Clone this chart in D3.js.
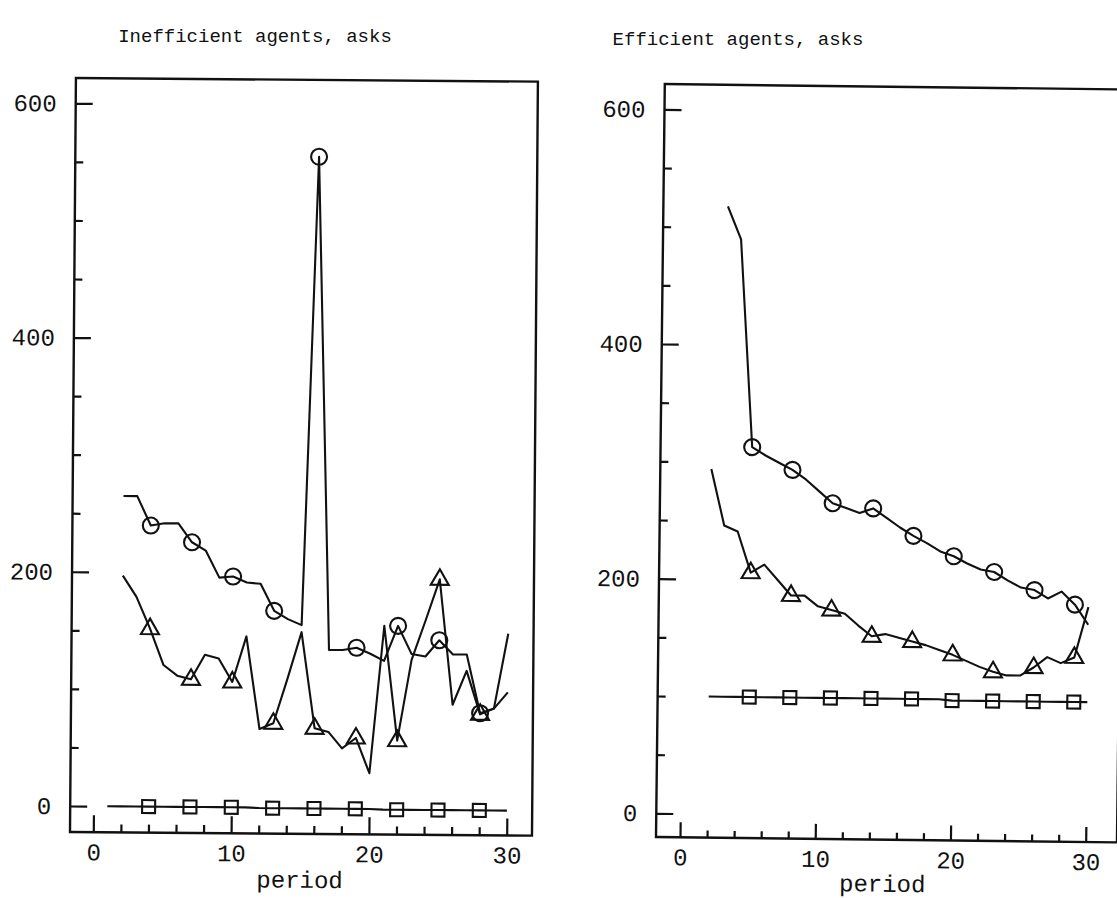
<!DOCTYPE html>
<html>
<head>
<meta charset="utf-8">
<script src="https://cdn.jsdelivr.net/npm/d3@7"></script>
<style>
  body { margin: 0; background: #fff; }
  svg { display: block; }
</style>
</head>
<body>
<svg id="chart" width="1117" height="898"></svg>
<script>
// ---- data ---------------------------------------------------------------
const periods = [1, 2, 3, 4, 5, 6, 7, 8, 9, 10, 11, 12, 13, 14, 15,
                 16, 17, 18, 19, 20, 21, 22, 23, 24, 25, 26, 27, 28, 29, 30];

// marker periods (every third period)
const markersInefficient = [4, 7, 10, 13, 16, 19, 22, 25, 28];
const markersEfficient = [5, 8, 11, 14, 17, 20, 23, 26, 29];

// tick values
const yTicksMajor = [0, 200, 400, 600];
const yTicksMinor = [50, 100, 150, 250, 300, 350, 450, 500, 550];
const xTicksMajor = [0, 10, 20, 30];
const xTicksMinor = [2, 4, 6, 8, 12, 14, 16, 18, 22, 24, 26, 28];

// Inefficient agents, asks (null = no ask recorded)
const ineffCircle = [null, 265, 265, 240, 242, 242, 226, 219, 196, 197,
                     192, 191, 168, 161, 156, 556, 135, 135, 137, 132,
                     126, 156, 132, 130, 144, 132, 132, 82, 86, 100];
const ineffTriangle = [null, 197, 179, 152, 121, 112, 109, 130, 127, 107,
                       146, 67, 72, 110, 150, 68, 65, 51, 60, 30,
                       156, 58, 127, 161, 196, 89, 118, 81, 86, 150];
const ineffSquare = [0, 0, 0, 0, 0, 0, 0, 0, 0, 0,
                     0, -0.5, -0.5, -0.5, -0.5, -0.5, -0.5, -0.5, -0.5, -0.5,
                     -1, -1, -1, -1, -1, -1, -1, -1, -1, -1];

// Efficient agents, asks
const effCircle = [null, null, 518, 490, 313, 306, 300, 294, 286, 276,
                   266, 262, 258, 262, 254, 246, 239, 233, 226, 222,
                   216, 211, 209, 202, 196, 194, 187, 193, 182, 165];
const effTriangle = [null, 294, 246, 241, 206, 213, 200, 187, 187, 178,
                     175, 172, 162, 153, 155, 152, 149, 146, 142, 138,
                     133, 128, 124, 121, 121, 128, 137, 132, 137, 180];
const effSquare = [null, 100, 100, 100, 100, 100, 100, 100, 100, 100,
                   100, 100, 100, 100, 100, 100, 100, 100, 100, 99,
                   99, 99, 99, 99, 99, 99, 99, 99, 99, 99];

const titles = ["Inefficient agents, asks", "Efficient agents, asks"];
const xLabel = "period";

// ---- layout -------------------------------------------------------------
const FONT = "'Liberation Mono', 'Courier New', monospace";
const INK = "#111";
const svg = d3.select("#chart");

const panels = [
  {
    title: titles[0], titleX: 255, titleY: 42,
    frame: { left: 70, right: 532, top: 78, bottom: 832 },
    xRange: [93.3, 506.7], yRange: [806, 103.3],
    angle: 0.45, xMajor: 17, xMinor: 8, yMajor: 17, yMinor: 8,
    labelY: 886,
    series: [ineffCircle, ineffTriangle, ineffSquare],
    markers: markersInefficient
  },
  {
    title: titles[1], titleX: 738, titleY: 45,
    frame: { left: 656, right: 1117, top: 84, bottom: 837 },
    xRange: [680, 1085.7], yRange: [813.3, 109.3],
    angle: 0.67, xMajor: 15, xMinor: 7, yMajor: 17, yMinor: 8,
    labelY: 889,
    series: [effCircle, effTriangle, effSquare],
    markers: markersEfficient
  }
];

const shapes = ["circle", "triangle", "square"];

function drawMarker(g, shape, cx, cy) {
  if (shape === "circle") {
    g.append("circle").attr("cx", cx).attr("cy", cy).attr("r", 8);
  } else if (shape === "square") {
    g.append("rect").attr("x", cx - 6.5).attr("y", cy - 6.5)
      .attr("width", 13).attr("height", 13);
  } else {
    const p = d3.path();
    p.moveTo(cx, cy - 10);
    p.lineTo(cx + 9, cy + 5.5);
    p.lineTo(cx - 9, cy + 5.5);
    p.closePath();
    g.append("path").attr("d", p.toString());
  }
}

panels.forEach(pn => {
  // panel title
  svg.append("text")
    .attr("x", pn.titleX).attr("y", pn.titleY)
    .attr("text-anchor", "middle")
    .style("font-family", FONT).style("font-size", "19px")
    .attr("fill", INK)
    .text(pn.title);

  const f = pn.frame;
  const g = svg.append("g")
    .attr("transform", `rotate(${pn.angle}, ${f.left}, ${f.bottom})`);

  const x = d3.scaleLinear().domain([0, 30]).range(pn.xRange);
  const y = d3.scaleLinear().domain([0, 600]).range(pn.yRange);

  // frame
  g.append("rect")
    .attr("x", f.left).attr("y", f.top)
    .attr("width", f.right - f.left).attr("height", f.bottom - f.top)
    .attr("fill", "none").attr("stroke", INK).attr("stroke-width", 2.4);

  const styleAxis = sel => {
    sel.select(".domain").remove();
    sel.selectAll(".tick line").attr("stroke", INK).attr("stroke-width", 2.2);
    sel.selectAll(".tick text")
      .attr("fill", INK)
      .style("font-family", FONT).style("font-size", "24px");
  };

  // y axis: minor and major ticks pointing inward
  g.append("g").attr("transform", `translate(${f.left},0)`)
    .call(d3.axisLeft(y).tickValues(yTicksMinor).tickFormat("").tickSize(-pn.yMinor))
    .call(styleAxis);
  g.append("g").attr("transform", `translate(${f.left},0)`)
    .call(d3.axisLeft(y).tickValues(yTicksMajor).tickFormat(d3.format("d"))
      .tickSize(-pn.yMajor).tickPadding(19))
    .call(styleAxis);

  // x axis
  g.append("g").attr("transform", `translate(0,${f.bottom})`)
    .call(d3.axisBottom(x).tickValues(xTicksMinor).tickFormat("").tickSize(-pn.xMinor))
    .call(styleAxis);
  g.append("g").attr("transform", `translate(0,${f.bottom})`)
    .call(d3.axisBottom(x).tickValues(xTicksMajor).tickFormat(d3.format("d"))
      .tickSize(-pn.xMajor).tickPadding(11))
    .call(styleAxis);

  g.append("text")
    .attr("x", (pn.xRange[0] + pn.xRange[1]) / 2).attr("y", pn.labelY)
    .attr("text-anchor", "middle")
    .style("font-family", FONT).style("font-size", "24px")
    .attr("fill", INK)
    .text(xLabel);

  // series lines and markers
  const line = d3.line()
    .defined(d => d.v !== null)
    .x(d => x(d.p)).y(d => y(d.v));

  pn.series.forEach((vals, i) => {
    const pts = periods.map((p, k) => ({ p, v: vals[k] }));
    g.append("path")
      .datum(pts)
      .attr("d", line)
      .attr("fill", "none").attr("stroke", INK)
      .attr("stroke-width", 2.1).attr("stroke-linejoin", "round");

    const mg = g.append("g")
      .attr("fill", "none").attr("stroke", INK).attr("stroke-width", 2.1);
    pn.markers.forEach(p => {
      const v = vals[periods.indexOf(p)];
      drawMarker(mg, shapes[i], x(p), y(v));
    });
  });
});
</script>
</body>
</html>
